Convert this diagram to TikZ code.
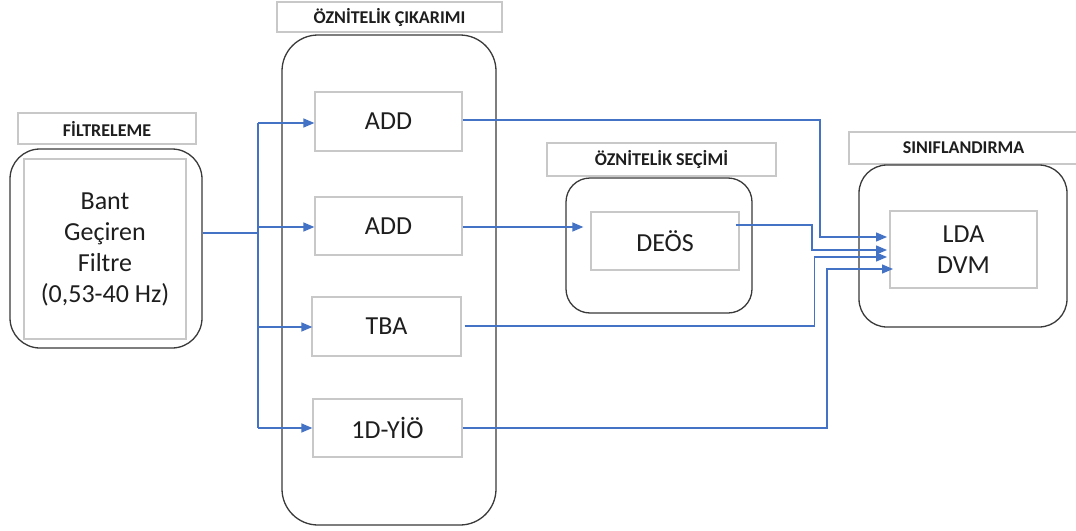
\documentclass[tikz,border=0pt]{standalone}
\usepackage{fontspec}
\setmainfont{Carlito}
\usetikzlibrary{arrows.meta}
\definecolor{lnblue}{HTML}{4472C4}
\definecolor{frame}{HTML}{3A3A3A}
\definecolor{lgray}{HTML}{C8C8C8}
\definecolor{txt}{HTML}{1E1E1E}
\begin{document}
\begin{tikzpicture}[x=1pt,y=-1pt,
  lbl/.style={draw=lgray,line width=1.3pt,fill=white,minimum width=#1,minimum height=31pt,inner sep=0pt,
    font=\fontsize{18}{20}\selectfont\bfseries,text=txt},
  grp/.style={draw=frame,line width=1.3pt,fill=white,rounded corners=#1,inner sep=0pt},
  inbox/.style={draw=lgray,line width=1.3pt,fill=white,inner sep=0pt,align=center,
    font=\fontsize{26}{31}\selectfont,text=txt},
  wire/.style={draw=lnblue,line width=1.4pt},
  arr/.style={wire,-{Triangle[length=11pt,width=9pt]}}]
\useasboundingbox (0,0) rectangle (1076,530);
\fill[white] (0,0) rectangle (1076,530);

% Filtreleme
\node[lbl=178pt] (filtlbl) at (107,128.5) {FİLTRELEME};
\node[grp=30pt,minimum width=192pt,minimum height=199pt] (filt) at (106,248.5) {};
\node[inbox,minimum width=162pt,minimum height=180pt] (filtin) at (105,249) {Bant\\Geçiren\\Filtre\\(0,53-40 Hz)};

% Oznitelik cikarimi
\node[lbl=225pt,minimum height=30pt] (fclbl) at (389.5,17) {ÖZNİTELİK ÇIKARIMI};
\node[grp=36pt,minimum width=214pt,minimum height=490pt] (fc) at (389,280) {};
\node[inbox,minimum width=147pt,minimum height=59pt] (add1) at (388.5,121.5) {ADD};
\node[inbox,minimum width=147pt,minimum height=58pt] (add2) at (388.5,226) {ADD};
\node[inbox,minimum width=149pt,minimum height=59pt] (tba) at (386.5,326.5) {TBA};
\node[inbox,minimum width=149pt,minimum height=58pt] (yio) at (387.5,428) {1D-YİÖ};

% Oznitelik secimi
\node[lbl=229pt,minimum height=33pt] (fslbl) at (661.5,159.5) {ÖZNİTELİK SEÇİMİ};
\node[grp=24pt,minimum width=186pt,minimum height=135pt] (fs) at (659,245.5) {};
\node[inbox,minimum width=148pt,minimum height=58pt] (deos) at (665,241) {DEÖS};

% Siniflandirma
\node[lbl=229pt,minimum height=32pt] (cllbl) at (963.5,148) {SINIFLANDIRMA};
\node[grp=28pt,minimum width=208pt,minimum height=162pt] (cl) at (963,246) {};
\node[inbox,minimum width=147pt,minimum height=77pt] (clin) at (963.5,249.5) {LDA\\DVM};

% junctions
\coordinate (j) at (258,233);
\coordinate (in1) at (887,237);
\coordinate (in2) at (887,250);
\coordinate (in3) at (887,257);
\coordinate (in4) at (893,269);

% filter to feature extraction
\draw[wire] (filt.east |- j) -- (j);
\draw[wire] (j |- 0,123) -- (j |- 0,428);
\draw[arr] (j |- 0,123) -- (add1.west |- 0,123);
\draw[arr] (j |- 0,227) -- (add2.west |- 0,227);
\draw[arr] (j |- 0,327) -- ([xshift=1pt]tba.west |- 0,327);
\draw[arr] (j |- 0,428) -- (yio.west |- 0,428);

% to feature selection
\draw[arr,shorten >=7pt] (add2.east |- 0,227) -- (deos.west |- 0,227);

% to classification
\draw[arr] (add1.east |- 0,120) -| (820,237) -- (in1);
\draw[arr] ([xshift=-4pt]deos.east |- 0,225) -| (812,250) -- (in2);
\draw[arr] ([xshift=3pt]tba.east |- 0,326) -| (814.5,257) -- (in3);
\draw[arr] (yio.east |- 0,428) -| (827,269) -- (in4);
\end{tikzpicture}
\end{document}
